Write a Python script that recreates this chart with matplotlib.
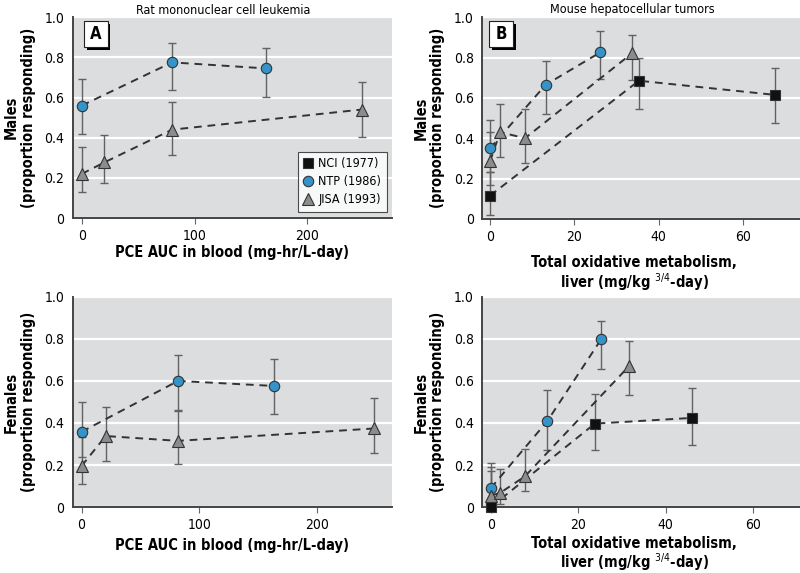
import matplotlib
matplotlib.use("Agg")
import matplotlib.pyplot as plt
from matplotlib.patches import Rectangle

plt.rcParams['font.family'] = ['DejaVu Sans']
plt.rcParams['font.stretch'] = 'condensed'
plt.rcParams['mathtext.fontset'] = 'dejavusans'

# ---- data ----
series_names = ["NCI (1977)", "NTP (1986)", "JISA (1993)"]
yticks = [0, 0.2, 0.4, 0.6, 0.8, 1.0]
ytick_labels = ["0", "0.2", "0.4", "0.6", "0.8", "1.0"]

# Panel A: male rats, PCE AUC in blood
a_ntp_x = [0, 80, 163]
a_ntp_y = [0.56, 0.775, 0.745]
a_ntp_lo = [0.42, 0.635, 0.605]
a_ntp_hi = [0.69, 0.87, 0.845]
a_jisa_x = [0, 20, 80, 248]
a_jisa_y = [0.22, 0.277, 0.44, 0.54]
a_jisa_lo = [0.128, 0.176, 0.312, 0.405]
a_jisa_hi = [0.355, 0.415, 0.578, 0.675]

# Panel B: male mice, total oxidative metabolism
b_nci_x = [0, 35.3, 67.5]
b_nci_y = [0.115, 0.685, 0.615]
b_nci_lo = [0.02, 0.545, 0.475]
b_nci_hi = [0.23, 0.80, 0.75]
b_ntp_x = [0, 13.2, 26.1]
b_ntp_y = [0.35, 0.665, 0.825]
b_ntp_lo = [0.23, 0.52, 0.695]
b_ntp_hi = [0.49, 0.785, 0.93]
b_jisa_x = [0, 2.4, 8.3, 33.6]
b_jisa_y = [0.285, 0.43, 0.40, 0.82]
b_jisa_lo = [0.17, 0.305, 0.275, 0.69]
b_jisa_hi = [0.43, 0.57, 0.545, 0.91]

# Panel C: female rats
c_ntp_x = [0, 82, 164]
c_ntp_y = [0.358, 0.60, 0.576]
c_ntp_lo = [0.239, 0.46, 0.441]
c_ntp_hi = [0.498, 0.725, 0.705]
c_jisa_x = [0, 20.5, 82, 249]
c_jisa_y = [0.196, 0.338, 0.315, 0.374]
c_jisa_lo = [0.108, 0.22, 0.207, 0.255]
c_jisa_hi = [0.334, 0.478, 0.455, 0.517]

# Panel D: female mice
d_nci_x = [0, 23.8, 45.9]
d_nci_y = [0.0, 0.397, 0.424]
d_nci_lo = [0.0, 0.273, 0.294]
d_nci_hi = [0.17, 0.538, 0.567]
d_ntp_x = [0, 12.9, 25.3]
d_ntp_y = [0.09, 0.408, 0.80]
d_ntp_lo = [0.01, 0.27, 0.657]
d_ntp_hi = [0.21, 0.559, 0.884]
d_jisa_x = [0, 2.1, 7.8, 31.6]
d_jisa_y = [0.055, 0.067, 0.146, 0.67]
d_jisa_lo = [0.0, 0.016, 0.075, 0.535]
d_jisa_hi = [0.19, 0.18, 0.276, 0.789]

# ---- styles ----
BG = '#dcdddf'
styles = {
    "NCI (1977)": dict(marker='s', color='#111111', ms=7.5),
    "NTP (1986)": dict(marker='o', color='#3494c9', ms=7.5),
    "JISA (1993)": dict(marker='^', color='#8c8c8c', ms=8),
}


def draw_series(ax, name, x, y, lo, hi):
    st = styles[name]
    yerr = [[v - l for v, l in zip(y, lo)], [h - v for v, h in zip(y, hi)]]
    ax.errorbar(x, y, yerr=yerr, fmt='none', ecolor='#626262', elinewidth=1,
                capsize=3, capthick=1, zorder=2, clip_on=False)
    ax.plot(x, y, ls=(0, (4, 3)), color='#333333', lw=1.4, zorder=3)
    ax.plot(x, y, ls='none', marker=st['marker'], ms=st['ms'], mfc=st['color'],
            mec='#333333', mew=0.8, zorder=4, clip_on=False, label=name)


def style_axes(ax, xlim, xticks):
    ax.set_facecolor(BG)
    ax.set_xlim(*xlim)
    ax.set_ylim(0, 1.0)
    ax.set_xticks(xticks)
    ax.set_yticks(yticks)
    ax.set_yticklabels(ytick_labels)
    ax.yaxis.grid(True, color='white', lw=1.6)
    ax.set_axisbelow(True)
    for s in ['top', 'right']:
        ax.spines[s].set_visible(False)
    for s in ['left', 'bottom']:
        ax.spines[s].set_color('#444444')
        ax.spines[s].set_linewidth(1.4)
    ax.tick_params(axis='y', length=0, pad=6, labelsize=10)
    ax.tick_params(axis='x', length=4, width=0.8, color='#666666', pad=4, labelsize=10)


def panel_label(ax, letter, x0):
    w, h = 0.075, 0.13
    y0 = 0.85
    ax.add_patch(Rectangle((x0 + 0.009, y0 - 0.015), w, h, transform=ax.transAxes,
                           facecolor='black', edgecolor='none', zorder=5))
    ax.add_patch(Rectangle((x0, y0), w, h, transform=ax.transAxes,
                           facecolor='white', edgecolor='#222222', lw=0.8, zorder=6))
    ax.text(x0 + w / 2, y0 + h / 2, letter, transform=ax.transAxes, ha='center',
            va='center', fontsize=12, fontweight='bold', zorder=7)


def ylabel(ax, sex):
    ax.text(-0.166, 0.5, sex + "\n(proportion responding)", transform=ax.transAxes,
            rotation=90, ha='center', va='center', fontsize=10.5, fontweight='bold',
            linespacing=1.15)


fig = plt.figure(figsize=(8, 5.73), dpi=100)
ax_a = fig.add_axes([0.091, 0.6195, 0.399, 0.3505])
ax_b = fig.add_axes([0.6025, 0.618, 0.3975, 0.352])
ax_c = fig.add_axes([0.091, 0.115, 0.399, 0.367])
ax_d = fig.add_axes([0.6025, 0.115, 0.3975, 0.367])

style_axes(ax_a, (-8, 275), [0, 100, 200])
style_axes(ax_c, (-7.5, 264), [0, 100, 200])
style_axes(ax_b, (-1.9, 73.5), [0, 20, 40, 60])
style_axes(ax_d, (-2.0, 70.7), [0, 20, 40, 60])

# NCI handle for the legend in panel A (no NCI data for rats)
ax_a.plot([], [], ls='none', marker='s', ms=7, mfc=styles["NCI (1977)"]['color'],
          mec='#333333', mew=0.8, label="NCI (1977)")
draw_series(ax_a, "NTP (1986)", a_ntp_x, a_ntp_y, a_ntp_lo, a_ntp_hi)
draw_series(ax_a, "JISA (1993)", a_jisa_x, a_jisa_y, a_jisa_lo, a_jisa_hi)

draw_series(ax_b, "NCI (1977)", b_nci_x, b_nci_y, b_nci_lo, b_nci_hi)
draw_series(ax_b, "NTP (1986)", b_ntp_x, b_ntp_y, b_ntp_lo, b_ntp_hi)
draw_series(ax_b, "JISA (1993)", b_jisa_x, b_jisa_y, b_jisa_lo, b_jisa_hi)

draw_series(ax_c, "NTP (1986)", c_ntp_x, c_ntp_y, c_ntp_lo, c_ntp_hi)
draw_series(ax_c, "JISA (1993)", c_jisa_x, c_jisa_y, c_jisa_lo, c_jisa_hi)

draw_series(ax_d, "NCI (1977)", d_nci_x, d_nci_y, d_nci_lo, d_nci_hi)
draw_series(ax_d, "NTP (1986)", d_ntp_x, d_ntp_y, d_ntp_lo, d_ntp_hi)
draw_series(ax_d, "JISA (1993)", d_jisa_x, d_jisa_y, d_jisa_lo, d_jisa_hi)

handles, labels = ax_a.get_legend_handles_labels()
order = [labels.index(n) for n in series_names]
leg = ax_a.legend([handles[i] for i in order], [labels[i] for i in order],
                  loc='lower right', bbox_to_anchor=(0.984, 0.03), fontsize=9,
                  frameon=True, fancybox=False, shadow=False, handlelength=0.8,
                  handletextpad=0.4, borderpad=0.45, labelspacing=0.4,
                  borderaxespad=0)
leg.get_frame().set_edgecolor('#222222')
leg.get_frame().set_linewidth(0.8)
leg.set_zorder(10)

panel_label(ax_a, "A", 0.034)
panel_label(ax_b, "B", 0.022)

ylabel(ax_a, "Males")
ylabel(ax_b, "Males")
ylabel(ax_c, "Females")
ylabel(ax_d, "Females")

xl_pce = "PCE AUC in blood (mg-hr/L-day)"
xl_tom = "Total oxidative metabolism,\nliver (mg/kg $^{3/4}$-day)"
ax_a.text(0.5, -0.174, xl_pce, transform=ax_a.transAxes, ha='center', va='center',
          fontsize=10.5, fontweight='bold')
ax_c.text(0.5, -0.181, xl_pce, transform=ax_c.transAxes, ha='center', va='center',
          fontsize=10.5, fontweight='bold')
ax_b.text(0.478, -0.272, xl_tom, transform=ax_b.transAxes, ha='center', va='center',
          fontsize=10.5, fontweight='bold', linespacing=1.1)
ax_d.text(0.478, -0.225, xl_tom, transform=ax_d.transAxes, ha='center', va='center',
          fontsize=10.5, fontweight='bold', linespacing=1.05)

fig.text(223 / 800, 1 - 10 / 573, "Rat mononuclear cell leukemia", ha='center',
         va='center', fontsize=9)
fig.text(632 / 800, 1 - 10 / 573, "Mouse hepatocellular tumors", ha='center',
         va='center', fontsize=9)

fig.savefig("out.png", dpi=100)
